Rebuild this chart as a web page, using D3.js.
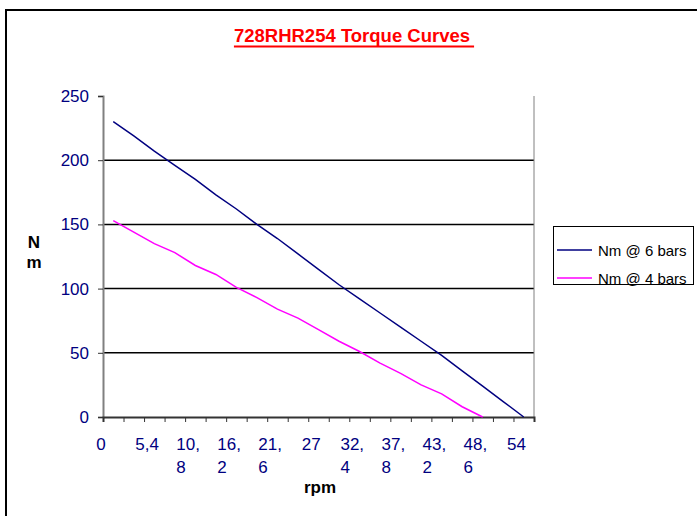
<!DOCTYPE html>
<html>
<head>
<meta charset="utf-8">
<script src="https://cdn.jsdelivr.net/npm/d3@7"></script>
<style>
  body { margin: 0; background: #fff; }
  svg { font-family: "Liberation Sans", Arial, sans-serif; }
</style>
</head>
<body>
<script>
var svgWidth = 697;
var svgHeight = 516;

// data (rpm at category centres)
var rpm = [1.35, 4.05, 6.75, 9.45, 12.15, 14.85, 17.55, 20.25, 22.95, 25.65, 28.35,
  31.05, 33.75, 36.45, 39.15, 41.85, 44.55, 47.25, 49.95, 52.65, 55.35];
var nm6bars = [230, 219, 207, 196, 185, 173, 162, 150, 139, 127, 115,
  103, 92, 81, 70, 59, 48, 36, 24, 12, 0];
var nm4bars = [153, 144, 135, 128, 118, 111, 101, 93, 84, 77, 68,
  59, 51, 42, 34, 25, 18, 8, 0];

var seriesNames = ["Nm @ 6 bars", "Nm @ 4 bars"];
var seriesColors = ["#000080", "#ff00ff"];

var yTicks = [0, 50, 100, 150, 200, 250];
var xTickStep = 2.7;
var xTickCount = 22;
var xLabels = ["0", "5,4", "10,|8", "16,|2", "21,|6", "27", "32,|4", "37,|8", "43,|2", "48,|6", "54"];

var plot = { left: 103, right: 534, top: 96, bottom: 417 };

var svg = d3.select("body")
  .append("svg")
  .attr("width", svgWidth)
  .attr("height", svgHeight);

// chart area border (runs off the right/bottom of the picture)
svg.append("rect")
  .attr("x", 6).attr("y", 10)
  .attr("width", 720).attr("height", 540)
  .attr("fill", "none")
  .attr("stroke", "#000")
  .attr("stroke-width", 2);

var xScale = d3.scaleLinear()
  .domain([0, xTickStep * (xTickCount - 1)])
  .range([plot.left, plot.right]);

var yScale = d3.scaleLinear()
  .domain([0, 250])
  .range([plot.bottom, plot.top]);

// gridlines
svg.append("g")
  .selectAll("line")
  .data(yTicks.filter(d => d > 0 && d < 250))
  .enter()
  .append("line")
  .attr("x1", plot.left).attr("x2", plot.right)
  .attr("y1", d => yScale(d)).attr("y2", d => yScale(d))
  .attr("stroke", "#000")
  .attr("stroke-width", 1.5);

// right edge of plot area
svg.append("line")
  .attr("x1", plot.right).attr("x2", plot.right)
  .attr("y1", plot.top).attr("y2", plot.bottom)
  .attr("stroke", "#808080")
  .attr("stroke-width", 1);

// y axis
var leftAxis = d3.axisLeft(yScale).tickValues(yTicks).tickSize(5).tickPadding(9);
var yAxis = svg.append("g")
  .attr("transform", `translate(${plot.left}, 0)`)
  .call(leftAxis);
yAxis.select(".domain").attr("stroke", "#808080").attr("stroke-width", 2);
yAxis.selectAll(".tick line").attr("stroke", "#333");
yAxis.selectAll("text")
  .attr("fill", "#000080")
  .style("font-size", "17px")
  .style("font-family", "Liberation Sans, Arial, sans-serif");

// x axis
var xTicks = d3.range(xTickCount).map(i => i * xTickStep);
var bottomAxis = d3.axisBottom(xScale).tickValues(xTicks).tickSize(5).tickFormat("");
var xAxis = svg.append("g")
  .attr("transform", `translate(0, ${plot.bottom})`)
  .call(bottomAxis);
xAxis.select(".domain").attr("stroke", "#333").attr("stroke-width", 2);
xAxis.selectAll(".tick line").attr("stroke", "#333");

// x tick labels, every second tick, wrapped like the original
var xLab = svg.append("g")
  .selectAll("text")
  .data(xLabels)
  .enter()
  .append("text")
  .attr("fill", "#000080")
  .style("font-size", "17px")
  .attr("y", 450);
xLab.each(function(d, i) {
  var parts = d.split("|");
  var t = d3.select(this);
  parts.forEach(function(p, k) {
    t.append("tspan").attr("x", 0).attr("dy", k == 0 ? 0 : 23).text(p);
  });
  var w = this.getBBox().width;
  var shift = i == 0 ? -2 : 3;
  t.attr("transform", `translate(${xScale(xTicks[i * 2]) + shift - w / 2}, 0)`);
});

// series lines
var line = d3.line()
  .x(d => xScale(d[0]))
  .y(d => yScale(d[1]));

[nm6bars, nm4bars].forEach(function(vals, s) {
  svg.append("path")
    .datum(vals.map((v, i) => [rpm[i], v]))
    .attr("d", line)
    .attr("fill", "none")
    .attr("stroke", seriesColors[s])
    .attr("stroke-width", 1.5);
});

// title
var title = svg.append("text")
  .attr("x", 352).attr("y", 42)
  .attr("text-anchor", "middle")
  .attr("fill", "#ff0000")
  .style("font-size", "18.5px")
  .style("font-weight", "bold")
  .text("728RHR254 Torque Curves");
var tb = title.node().getBBox();
svg.append("line")
  .attr("x1", tb.x).attr("x2", tb.x + tb.width + 4)
  .attr("y1", 46.5).attr("y2", 46.5)
  .attr("stroke", "#ff0000")
  .attr("stroke-width", 2);

// axis titles
svg.append("text")
  .attr("x", 320).attr("y", 493)
  .attr("text-anchor", "middle")
  .style("font-size", "17px")
  .style("font-weight", "bold")
  .text("rpm");

var yTitle = svg.append("text")
  .attr("text-anchor", "middle")
  .style("font-size", "17px")
  .style("font-weight", "bold");
yTitle.append("tspan").attr("x", 34).attr("y", 248).text("N");
yTitle.append("tspan").attr("x", 34).attr("y", 268).text("m");

// legend
var legend = svg.append("g");
legend.append("rect")
  .attr("x", 553.5).attr("y", 226.5)
  .attr("width", 140).attr("height", 58)
  .attr("fill", "#fff")
  .attr("stroke", "#000")
  .attr("stroke-width", 1);
seriesNames.forEach(function(name, i) {
  var ly = 250 + i * 28;
  legend.append("line")
    .attr("x1", 557).attr("x2", 592)
    .attr("y1", ly).attr("y2", ly)
    .attr("stroke", seriesColors[i])
    .attr("stroke-width", 1.5);
  legend.append("text")
    .attr("x", 598).attr("y", ly + 5.5)
    .style("font-size", "15px")
    .text(name);
});
</script>
</body>
</html>
